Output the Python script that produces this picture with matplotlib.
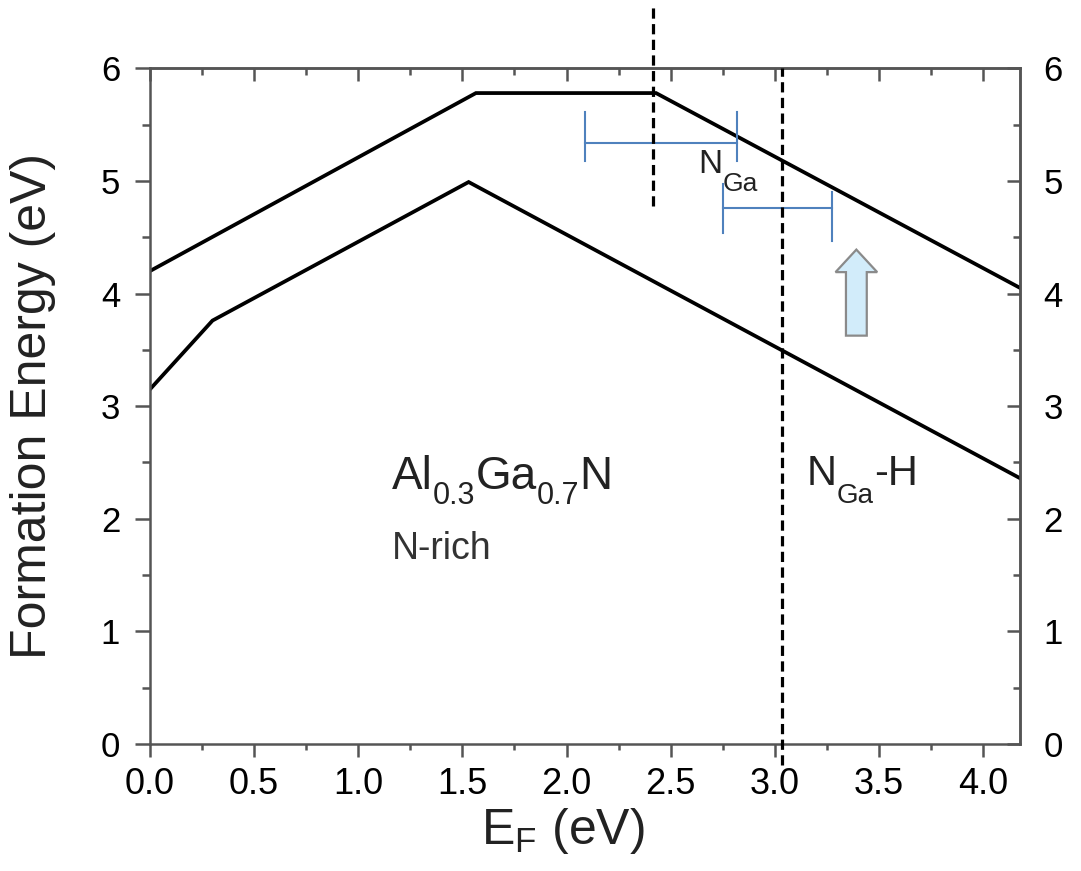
import numpy as np
import matplotlib
matplotlib.use('Agg')
import matplotlib.pyplot as plt
from matplotlib.patches import FancyArrow

plt.rcParams['font.family'] = ['Liberation Sans', 'DejaVu Sans']

# ---------------------------------------------------------------------------
# Data
# ---------------------------------------------------------------------------
ngah_ef = [0.0, 1.565, 2.43, 4.178]          # upper curve (N_Ga)
ngah_e = [4.20, 5.78, 5.78, 4.05]
ngah2_ef = [0.0, 0.30, 1.53, 4.178]          # lower curve (N_Ga-H)
ngah2_e = [3.15, 3.76, 4.99, 2.36]

# blue horizontal bars: x range, y level, cap ranges (left, right)
bar1_x = [2.089, 2.82]
bar1_y = 5.335
bar1_caps = [(5.18, 5.615), (5.18, 5.615)]
bar2_x = [2.753, 3.273]
bar2_y = 4.757
bar2_caps = [(4.54, 4.97), (4.47, 4.90)]

# dashed verticals: x, y_low, y_high
vline1 = (2.417, 4.78, 6.56)
vline2 = (3.035, -0.19, 6.0)

# arrow: x, base, tip
arrow_x, arrow_base, arrow_tip = 3.392, 3.626, 4.39

xticks = [0.0, 0.5, 1.0, 1.5, 2.0, 2.5, 3.0, 3.5, 4.0]
yticks = [0, 1, 2, 3, 4, 5, 6]

SPINE = '#555555'
TXT = '#222222'


def draw_formula(ax, x, y, parts, color=TXT):
    """Draw text pieces one after the other; parts = (text, size, shift_px)."""
    fig = ax.figure
    renderer = fig.canvas.get_renderer()
    xp, yp = ax.transData.transform((x, y))
    for s, size, dy in parts:
        t = ax.text(xp, yp + dy, s, fontsize=size, va='baseline', ha='left',
                    color=color, transform=None)
        bb = t.get_window_extent(renderer)
        xp = bb.x1


fig = plt.figure(figsize=(10.81, 8.71), dpi=100)
ax = fig.add_axes([0.1388, 0.1458, 0.9436 - 0.1388, 0.9216 - 0.1458])

ax.plot(ngah_ef, ngah_e, color='black', lw=2.7, solid_joinstyle='miter')
ax.plot(ngah2_ef, ngah2_e, color='black', lw=2.7, solid_joinstyle='miter')

# blue bars
blue = '#4f81bd'
for bx, by, caps in [(bar1_x, bar1_y, bar1_caps), (bar2_x, bar2_y, bar2_caps)]:
    ax.plot(bx, [by, by], color=blue, lw=1.5)
    for cx, (c0, c1) in zip(bx, caps):
        ax.plot([cx, cx], [c0, c1], color=blue, lw=1.5)

# dashed lines
for vx, v0, v1 in [vline1, vline2]:
    ax.plot([vx, vx], [v0, v1], color='black', lw=2.3, dashes=(3.2, 1.7),
            clip_on=False, zorder=5)

# arrow
arr = FancyArrow(arrow_x, arrow_base, 0, arrow_tip - arrow_base,
                 width=0.10, head_width=0.20, head_length=0.20,
                 length_includes_head=True, facecolor='#d2ecfa',
                 edgecolor='#8a8a8a', lw=1.6, zorder=4)
ax.add_patch(arr)

ax.set_xlim(0, 4.178)
ax.set_ylim(0, 6)
ax.set_xticks(xticks)
ax.set_xticklabels([f'{v:.1f}' for v in xticks])
ax.set_xticks(np.arange(0.25, 4.1, 0.5), minor=True)
ax.set_yticks(yticks)
ax.set_yticks(np.arange(0.5, 6, 1.0), minor=True)

for sp in ax.spines.values():
    sp.set_color(SPINE)
    sp.set_linewidth(1.8)

ax.tick_params(axis='y', which='major', direction='out', length=10.5,
               width=1.8, color=SPINE, labelsize=25, pad=11)
ax.tick_params(axis='y', which='minor', direction='out', length=5.5,
               width=1.8, color=SPINE)
ax.tick_params(axis='x', which='major', direction='out', length=9.5,
               width=1.8, color=SPINE, labelsize=26, pad=7)
ax.tick_params(axis='x', which='minor', direction='out', length=4.5,
               width=1.8, color=SPINE)

# top and right ticks point inward
top = ax.secondary_xaxis('top')
top.set_xticks(xticks)
top.set_xticks(np.arange(0.25, 4.1, 0.5), minor=True)
top.tick_params(which='major', direction='in', length=9.5, width=1.8,
                color=SPINE, labeltop=False)
top.tick_params(which='minor', direction='in', length=5, width=1.8, color=SPINE)
top.spines['top'].set_color(SPINE)
top.spines['top'].set_linewidth(1.8)

right = ax.secondary_yaxis('right')
right.set_yticks(yticks)
right.set_yticks(np.arange(0.5, 6, 1.0), minor=True)
right.tick_params(which='major', direction='in', length=9.5, width=1.8,
                  color=SPINE, labelsize=25, pad=17)
right.tick_params(which='minor', direction='in', length=5, width=1.8,
                  color=SPINE)
right.spines['right'].set_color(SPINE)
right.spines['right'].set_linewidth(1.8)

ax.set_ylabel('Formation Energy (eV)', fontsize=36, color=TXT)
ax.yaxis.set_label_coords(-0.108, 0.5)
ax.set_xlabel(r'E$_\mathregular{F}$ (eV)', fontsize=36, color=TXT)
ax.xaxis.set_label_coords(0.474, -0.092)

# annotations
draw_formula(ax, 2.632, 5.068, [('N', 24, 0), ('Ga', 19, -18)])
draw_formula(ax, 1.162, 2.26, [('Al', 33, 0), ('0.3', 22, -15),
                               ('Ga', 33, 0), ('0.7', 22, -15), ('N', 33, 0)])
ax.text(1.162, 1.64, 'N-rich', fontsize=27, color='#333333', va='baseline')
draw_formula(ax, 3.155, 2.30, [('N', 30, 0), ('Ga', 20, -18), ('-H', 30, 0)])

fig.savefig('out.png', dpi=100)
